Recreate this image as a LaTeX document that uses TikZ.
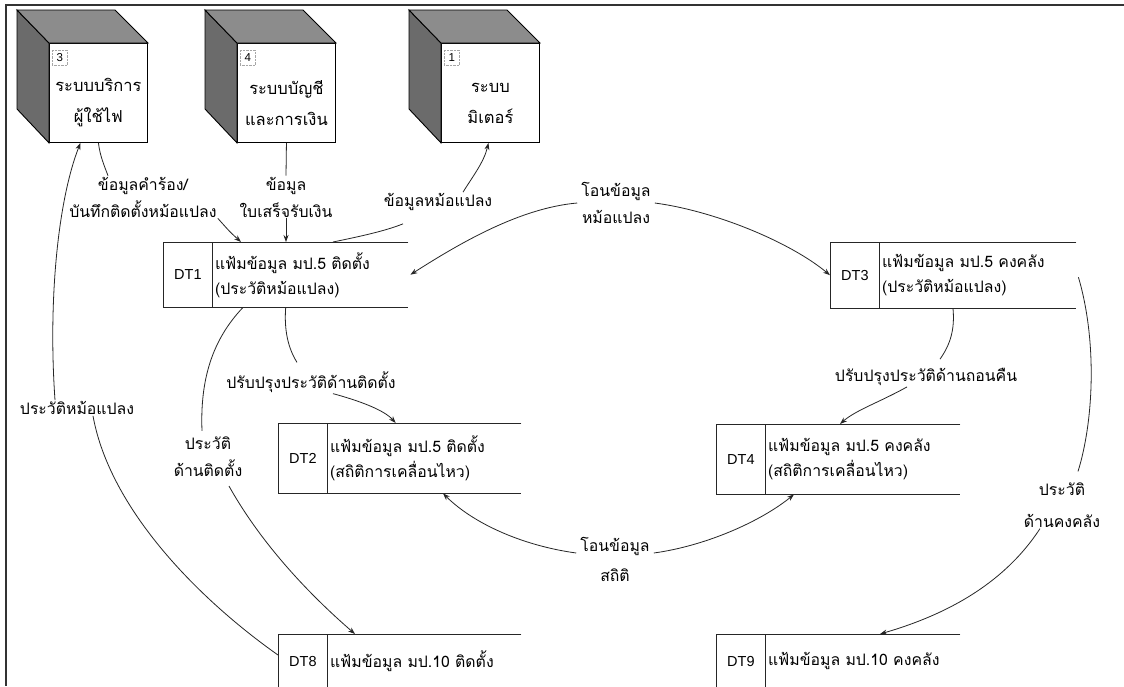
\documentclass[tikz,border=0pt]{standalone}
\usepackage{fontspec}
\setmainfont{Liberation Sans}
\newfontfamily\thaifont[Script=Thai]{Loma}
\usetikzlibrary{arrows.meta,calc}

\tikzset{
  flow/.style={draw=black!85, line width=0.8pt},
  arr/.style={flow, -{Stealth[length=7pt,width=5pt]}},
  lbl/.style={font=\thaifont\fontsize{15.8}{27}\selectfont, align=center, inner sep=1pt},
  frontface/.style={draw=black, line width=0.9pt, fill=white, minimum width=98pt,
    minimum height=99pt, inner sep=0pt, anchor=north west},
  sideface/.style={fill=black!58, draw=black, line width=0.9pt},
  topface/.style={fill=black!45, draw=black, line width=0.9pt},
  numbox/.style={draw=black!35, densely dotted, minimum width=15pt, minimum height=15pt,
    inner sep=0pt, anchor=north west, font=\fontsize{11.5}{11.5}\selectfont},
  cubetext/.style={font=\thaifont\fontsize{16.5}{31}\selectfont, align=center, inner sep=0pt},
  storearea/.style={minimum width=245pt, minimum height=65pt, inner sep=0pt, anchor=north west},
  storeid/.style={draw=black!85, line width=0.8pt, minimum width=49pt, inner sep=0pt,
    anchor=north west, font=\fontsize{14.5}{14.5}\selectfont},
  storetext/.style={font=\thaifont\fontsize{15.8}{25}\selectfont, align=left, inner sep=1pt, anchor=west},
  storeline/.style={draw=black!85, line width=0.8pt},
  frameline/.style={draw=black!80, line width=1.8pt}
}

\begin{document}
\begin{tikzpicture}[x=1pt,y=-1pt]
\useasboundingbox (0,0) rectangle (1124,686);
\clip (0,0) rectangle (1124,686);
\fill[white] (0,0) rectangle (1124,686);

% outer frame (top and left edges)
\draw[frameline] (1124,5) -- (6,5) -- (6,686);

% ---------- external entities (cubes) ----------
% 3: customer service
\node[frontface] (c3) at (49,43) {};
\filldraw[sideface] (c3.north west) -- ++(-32,-33) -- ++(0,99) -- (c3.south west) -- cycle;
\filldraw[topface] (c3.north west) -- ++(-32,-33) -- ++(98,0) -- (c3.north east) -- cycle;
\node[numbox] (n3) at ([xshift=3pt,yshift=-7pt]c3.north west) {3};
\node[cubetext] (t3) at ([yshift=-10pt]c3.center) {ระบบบริการ\\ผู้ใช้ไฟ};

% 4: accounting and finance
\node[frontface] (c4) at (237,43) {};
\filldraw[sideface] (c4.north west) -- ++(-32,-33) -- ++(0,99) -- (c4.south west) -- cycle;
\filldraw[topface] (c4.north west) -- ++(-32,-33) -- ++(98,0) -- (c4.north east) -- cycle;
\node[numbox] (n4) at ([xshift=3pt,yshift=-7pt]c4.north west) {4};
\node[cubetext] (t4) at ([yshift=-10pt]c4.center) {ระบบบัญชี\\และการเงิน};

% 1: meter system
\node[frontface] (c1) at (441,43) {};
\filldraw[sideface] (c1.north west) -- ++(-32,-33) -- ++(0,99) -- (c1.south west) -- cycle;
\filldraw[topface] (c1.north west) -- ++(-32,-33) -- ++(98,0) -- (c1.north east) -- cycle;
\node[numbox] (n1) at ([xshift=3pt,yshift=-7pt]c1.north west) {1};
\node[cubetext] (t1) at ([yshift=-10pt]c1.center) {ระบบ\\มิเตอร์};

% ---------- data stores ----------
% DT1
\node[storearea] (dt1) at (163,242) {};
\node[storeid, minimum height=65pt] (dt1id) at (dt1.north west) {DT1};
\node[storetext] (dt1t) at ([xshift=1pt]dt1id.east) {แฟ้มข้อมูล มป.5 ติดตั้ง\\(ประวัติหม้อแปลง)};
\draw[storeline] (dt1.north east) -- (dt1.north west) -- (dt1.south west) -- (dt1.south east);

% DT3
\node[storearea, minimum width=246pt, minimum height=66pt] (dt3) at (830,242) {};
\node[storeid, minimum height=66pt] (dt3id) at (dt3.north west) {DT3};
\node[storetext] (dt3t) at ([xshift=1pt]dt3id.east) {แฟ้มข้อมูล มป.5 คงคลัง\\(ประวัติหม้อแปลง)};
\draw[storeline] (dt3.north east) -- (dt3.north west) -- (dt3.south west) -- (dt3.south east);

% DT2
\node[storearea, minimum width=243pt, minimum height=70pt] (dt2) at (278,423) {};
\node[storeid, minimum height=70pt] (dt2id) at (dt2.north west) {DT2};
\node[storetext] (dt2t) at ([xshift=1pt]dt2id.east) {แฟ้มข้อมูล มป.5 ติดตั้ง\\(สถิติการเคลื่อนไหว)};
\draw[storeline] (dt2.north east) -- (dt2.north west) -- (dt2.south west) -- (dt2.south east);

% DT4
\node[storearea, minimum width=244pt, minimum height=70pt] (dt4) at (716,424) {};
\node[storeid, minimum height=70pt] (dt4id) at (dt4.north west) {DT4};
\node[storetext] (dt4t) at ([xshift=1pt]dt4id.east) {แฟ้มข้อมูล มป.5 คงคลัง\\(สถิติการเคลื่อนไหว)};
\draw[storeline] (dt4.north east) -- (dt4.north west) -- (dt4.south west) -- (dt4.south east);

% DT8
\node[storearea, minimum width=243pt, minimum height=54pt] (dt8) at (278,634) {};
\node[storeid, minimum height=54pt] (dt8id) at (dt8.north west) {DT8};
\node[storetext] (dt8t) at ([xshift=1pt]dt8id.east) {แฟ้มข้อมูล มป.10 ติดตั้ง};
\draw[storeline] (dt8.north east) -- (dt8.north west) -- (dt8.south west) -- (dt8.south east);

% DT9
\node[storearea, minimum width=244pt, minimum height=54pt] (dt9) at (716,634) {};
\node[storeid, minimum height=54pt] (dt9id) at (dt9.north west) {DT9};
\node[storetext] (dt9t) at ([xshift=1pt]dt9id.east) {แฟ้มข้อมูล มป.10 คงคลัง};
\draw[storeline] (dt9.north east) -- (dt9.north west) -- (dt9.south west) -- (dt9.south east);

% ---------- flow labels ----------
\node[lbl] (lreq)   at (143,197) {ข้อมูลคำร้อง/\\บันทึกติดตั้งหม้อแปลง};
\node[lbl] (lrcpt)  at (286,197) {ข้อมูล\\ใบเสร็จรับเงิน};
\node[lbl] (lmeter) at (438,202) {ข้อมูลหม้อแปลง};
\node[lbl] (lmove)  at (616,203) {โอนข้อมูล\\หม้อแปลง};
\node[lbl] (linst)  at (311,382) {ปรับปรุงประวัติด้านติดตั้ง};
\node[lbl] (linsth) at (208,457) {ประวัติ\\ด้านติดตั้ง};
\node[lbl] (lhist)  at (77,408)  {ประวัติหม้อแปลง};
\node[lbl] (lret)   at (926,377) {ปรับปรุงประวัติด้านถอนคืน};
\node[lbl, font=\thaifont\fontsize{15.8}{30}\selectfont] (lstat) at (615,559) {โอนข้อมูล\\สถิติ};
\node[lbl, font=\thaifont\fontsize{15.8}{32}\selectfont] (lstock) at (1062,505) {ประวัติ\\ด้านคงคลัง};

% ---------- flows ----------
% customer service -> DT1
\draw[flow] (c3.south) .. controls (100,156) and (104,165) .. ([xshift=-35pt]lreq.north);
\draw[arr] (lreq.south east) .. controls (230,232) .. ([xshift=78pt]dt1.north west);

% accounting -> DT1
\draw[flow] (c4.south) -- (lrcpt.north);
\draw[arr] (lrcpt.south) -- (lrcpt.south |- dt1.north);

% DT1 -> meter system
\draw[flow] ([xshift=170pt]dt1.north west) .. controls (362,236) and (385,231) .. ([xshift=-35pt,yshift=-12pt]lmeter.south);
\draw[arr] ([xshift=25pt]lmeter.north) .. controls (473,176) and (484,162) .. ([xshift=-2pt]c1.south);

% DT1 <-> DT3 transfer
\draw[arr] ([xshift=-3pt]lmove.west) .. controls (520,208) and (460,243) .. ([xshift=2pt]dt1.east);
\draw[arr] ([xshift=3pt]lmove.east) .. controls (715,211) and (790,242) .. (dt3.west);

% DT1 -> DT2
\draw[flow] (dt1.south) .. controls (284,330) and (288,348) .. ([xshift=-14pt,yshift=8pt]linst.north);
\draw[arr] ([xshift=22pt]linst.south) .. controls (360,401) and (384,410) .. ([xshift=-4pt]dt2.north);

% DT1 -> DT8
\draw[flow] ([xshift=80pt]dt1.south west) .. controls (212,340) and (200,380) .. ([xshift=-6pt,yshift=5pt]linsth.north);
\draw[arr] ([xshift=21pt,yshift=-8pt]linsth.south) .. controls (262,545) and (310,595) .. ([xshift=77pt]dt8.north west);

% DT8 -> customer service
\draw[flow] ([yshift=-21pt]dt8.north west) .. controls (200,600) and (110,510) .. ([xshift=16pt]lhist.south);
\draw[arr] ([xshift=-22pt]lhist.north) .. controls (48,300) and (58,200) .. ([xshift=-18pt]c3.south);

% DT3 -> DT4
\draw[flow] ([xshift=123pt]dt3.south west) .. controls (955,330) and (950,345) .. ([xshift=14pt,yshift=8pt]lret.north);
\draw[arr] ([xshift=-19pt]lret.south) .. controls (880,402) and (856,410) .. ([xshift=124pt]dt4.north west);

% DT3 -> DT9
\draw[flow] ([xshift=2pt,yshift=-2pt]dt3.east) .. controls (1097,340) and (1094,420) .. ([xshift=16pt,yshift=10pt]lstock.north);
\draw[arr] ([xshift=-22pt]lstock.south) .. controls (1000,590) and (935,618) .. ([xshift=164pt]dt9.north west);

% DT2 <-> DT4 transfer
\draw[arr] ([xshift=-3pt,yshift=6pt]lstat.west) .. controls (525,546) and (475,525) .. ([xshift=165pt]dt2.south west);
\draw[arr] ([xshift=3pt,yshift=6pt]lstat.east) .. controls (705,546) and (760,522) .. ([xshift=78pt]dt4.south west);
\end{tikzpicture}
\end{document}
